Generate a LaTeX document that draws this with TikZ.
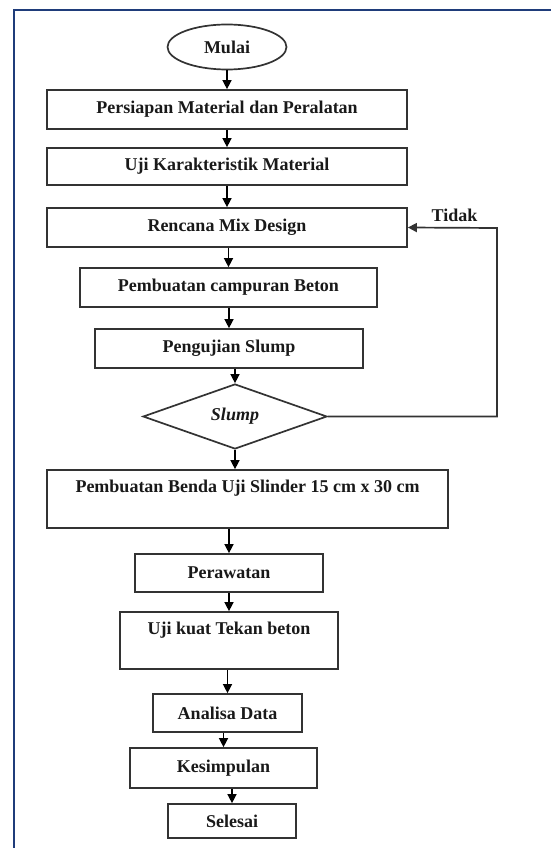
\documentclass[tikz,border=0pt]{standalone}
\usepackage{fontspec}
\setmainfont{Liberation Serif}
\usetikzlibrary{shapes.geometric,arrows.meta}
\definecolor{frameblue}{HTML}{1F3C7A}
\definecolor{boxline}{HTML}{333333}
\begin{document}
\begin{tikzpicture}[x=1pt,y=-1pt,
  every node/.style={font=\fontsize{18}{21}\selectfont\bfseries, text=black!90},
  box/.style={draw=boxline, line width=1.7pt, rectangle, inner sep=0pt},
  arr/.style={draw=black, line width=1.4pt, -{Triangle[length=9pt,width=9pt]}},
  loopline/.style={draw=boxline, line width=1.7pt, -{Triangle[length=9pt,width=9pt]}}]
\useasboundingbox (0,0) rectangle (551,848);
% frame
\draw[frameblue, line width=2.4pt] (14,848) -- (14,10) -- (551,10);
% nodes
\node[box, ellipse, minimum width=119pt, minimum height=45pt] (mulai) at (227,47) {Mulai};
\node[box, minimum width=360pt, minimum height=39pt] (p1) at (227,109.5) {Persiapan Material dan Peralatan};
\node[box, minimum width=360pt, minimum height=37pt] (p2) at (227,166.5) {Uji Karakteristik Material};
\node[box, minimum width=360pt, minimum height=39pt] (p3) at (227,227.5) {Rencana Mix Design};
\node[box, minimum width=297pt, minimum height=39pt] (p4) at (228.5,287.5) {Pembuatan campuran Beton};
\node[box, minimum width=268pt, minimum height=39pt] (p5) at (229,348.5) {Pengujian Slump};
\node[box, diamond, minimum width=184pt, minimum height=65pt] (d) at (235,416.5) {\itshape Slump};
\node[box, minimum width=401pt, minimum height=58pt] (p6) at (247.5,499) {};
\node (p6t) at (247.5,488) {Pembuatan Benda Uji Slinder 15 cm x 30 cm};
\node[box, minimum width=188pt, minimum height=38pt] (p7) at (229,573) {Perawatan};
\node[box, minimum width=218pt, minimum height=57pt] (p8) at (229,640.5) {};
\node (p8t) at (229,630) {Uji kuat Tekan beton};
\node[box, minimum width=149pt, minimum height=38pt] (p9) at (227.5,713) {Analisa Data};
\node[box, minimum width=187pt, minimum height=40pt] (p10) at (223.5,768) {Kesimpulan};
\node[box, minimum width=128pt, minimum height=34pt] (p11) at (232,821) {Selesai};
\node (tidak) at (454.5,215) {Tidak};
\coordinate (lp) at (497,228);
% arrows
\draw[arr] (mulai.south) -- (p1.north);
\draw[arr] (p1.south) -- (p2.north);
\draw[arr] (p2.south) -- (p3.north);
\draw[arr] (p3.south -| p4.north) -- (p4.north);
\draw[arr] (p4.south -| p5.north) -- (p5.north);
\draw[arr] (p5.south -| d.north) -- (d.north);
\draw[arr] (d.south) -- (d.south |- p6.north);
\draw[arr] (p6.south -| p7.north) -- (p7.north);
\draw[arr] (p7.south) -- (p8.north);
\draw[arr] (p8.south -| p9.north) -- (p9.north);
\draw[arr] (p9.south -| p10.north) -- (p10.north);
\draw[arr] (p10.south -| p11.north) -- (p11.north);
\draw[loopline] (d.east) -| (lp) -- (p3.east);
\end{tikzpicture}
\end{document}
